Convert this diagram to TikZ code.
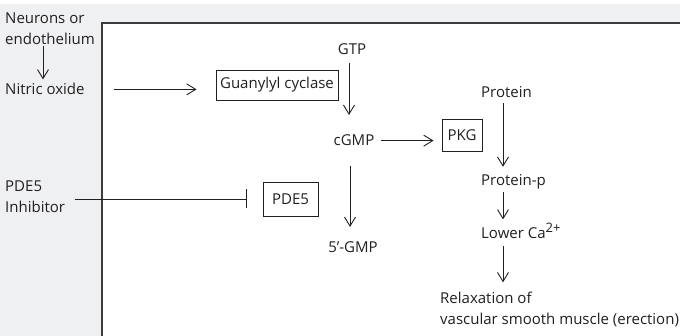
\documentclass[tikz,border=0pt]{standalone}
\usepackage{fontspec}
\setmainfont{Open Sans}
\usepackage{tikz}
\usetikzlibrary{arrows.meta,positioning,calc}
\definecolor{panelgray}{HTML}{EFF0F2}
\definecolor{inkgray}{HTML}{231F20}
\definecolor{framegray}{HTML}{3C3C3C}

\begin{document}
\begin{tikzpicture}[
    x=1pt, y=-1pt,
    txt/.style={inner sep=0pt, text=inkgray, font=\fontsize{15}{21}\selectfont},
    enzyme/.style={draw=inkgray, line width=0.9pt, inner sep=2pt, text=inkgray, font=\fontsize{15}{21}\selectfont},
    arrow/.style={-{Straight Barb[length=9pt,width=11pt]}, line width=0.9pt, draw=inkgray},
    inhibit/.style={-{Bar[width=19pt]}, line width=0.9pt, draw=inkgray}
]
\useasboundingbox (0,0) rectangle (680,336);

% Fondo
\fill[panelgray] (0,4) rectangle (680,336);
\fill[white] (102,23) rectangle (681,337);
\draw[framegray, line width=1.6pt] (102,337) -- (102,23) -- (681,23);

% Etiquetas de la izquierda
\node[txt, anchor=base west, align=left] (neurons) at (5,45) {Neurons or\\endothelium};
\node[txt, anchor=base west] (nitric) at (5,95) {Nitric oxide};
\node[txt, anchor=base west, align=left] (inhib) at (5,213) {PDE5\\Inhibitor};

% Enzimas
\node[enzyme, minimum width=122pt, minimum height=30pt] (cyclase) at (277,85) {Guanylyl cyclase};
\node[enzyme, minimum width=40pt, minimum height=32pt] (pkg) at (462,135) {PKG};
\node[enzyme, minimum width=55pt, minimum height=34pt] (pde5) at (290.5,199) {PDE5};

% Nucleotidos
\node[txt, anchor=base] (gtp) at (352,55) {GTP};
\node[txt, anchor=base] (cgmp) at (354,146) {cGMP};
\node[txt, anchor=base] (gmp) at (353,253) {5’-GMP};

% Cascada de la proteina
\coordinate (ax) at (503,0);
\node[txt, anchor=base west] (protein) at (481,98) {Protein};
\node[txt, anchor=base west] (proteinp) at (481,186) {Protein-p};
\node[txt, anchor=base west] (lowerca) at (481,239) {Lower Ca\raisebox{6pt}{\fontsize{13}{13}\selectfont 2+}};
\node[txt, anchor=base west, align=left] (relax) at (440,325) {Relaxation of\\vascular smooth muscle (erection)};

% Flechas
\draw[arrow, shorten <=1pt, shorten >=4pt] ([xshift=38pt]neurons.south west) -- ([xshift=38pt]neurons.south west |- nitric.north);
\draw[arrow] ([xshift=29pt]nitric.east) -- ([xshift=-19pt]cyclase.west |- nitric.east);
\draw[arrow, shorten <=8pt, shorten >=20pt] ([xshift=-3pt]gtp.south) -- ([xshift=-3pt]gtp.south |- cgmp.north);
\draw[arrow, shorten <=6pt, shorten >=8pt] (cgmp.east) -- (cgmp.east -| pkg.west);
\draw[arrow, shorten <=20pt, shorten >=15pt] ([xshift=-4pt]cgmp.south) -- ([xshift=-4pt]cgmp.south |- gmp.north);
\draw[arrow, shorten <=5pt, shorten >=8pt] (protein.south -| ax) -- (proteinp.north -| ax);
\draw[arrow, shorten <=2pt, shorten >=4pt] (proteinp.south -| ax) -- (lowerca.north -| ax);
\draw[arrow, shorten <=7pt, shorten >=10pt] (lowerca.south -| ax) -- (relax.north -| ax);

% Inhibicion
\draw[inhibit] ([xshift=10pt]inhib.east |- pde5.west) -- ([xshift=-16pt]pde5.west);

\end{tikzpicture}
\end{document}
